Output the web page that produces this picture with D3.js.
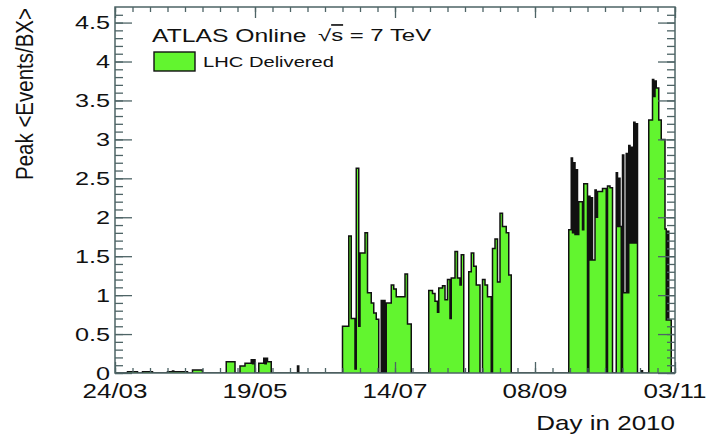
<!DOCTYPE html>
<html>
<head>
<meta charset="utf-8">
<script src="https://cdn.jsdelivr.net/npm/d3@7"></script>
<style>
  body { margin: 0; background: #fff; }
  text { font-family: "Liberation Sans", Arial, Helvetica, sans-serif; fill: #111; }
</style>
</head>
<body>
<div id="chart"></div>
<script>
// peak <events/BX> histogram, bins given by start day (day of year 2010), each runs to the next start
var binStart = [83, 88, 92, 94, 98, 104, 106, 106.5, 112, 114, 118,
  127.5, 131, 133, 135, 137.5, 138, 138.5, 139, 140.5, 142.5, 143, 143.5, 144, 145.5, 156, 156.5,
  174, 176.5, 177.5, 179, 179.5, 180.5, 181, 183, 184, 185.5, 186.5, 187.5, 188.5,
  189.5, 190, 190.5, 191, 191.5, 193.5, 194.5, 195.5, 199, 200, 201.5,
  208.5, 210, 211, 212, 212.5, 214, 215, 216, 217, 217.5, 219, 220, 221, 221.5, 222.5,
  224.5, 225.5, 226.5, 227.5, 229, 230, 231, 232, 233.5,
  234, 235, 236, 237, 238, 239.5, 240.5, 241.5,
  264.5, 265.5, 266, 266.5, 267, 267.5, 268, 268.5, 270, 270.5, 272, 272.5, 273, 273.5, 274,
  275, 275.5, 276, 278, 279.5, 280, 281, 282, 283.5, 284, 284.5, 285, 285.5,
  286, 286.5, 287.5, 288, 288.5, 289, 289.5, 290, 290.5, 291, 291.5, 292, 293.5, 294,
  296.5, 298, 298.5, 299, 299.5, 300.5, 301.5, 303, 303.5, 304, 304.5, 305.5];
var binMu = [0, 0.015, 0, 0.015, 0, 0.015, 0.025, 0.015, 0, 0.04, 0,
  0.145, 0, 0.09, 0.125, 0.17, 0.12, 0.17, 0, 0.125, 0.19, 0.12, 0.19, 0.145, 0, 0.09, 0,
  0.60, 1.76, 0.70, 0.05, 2.63, 0.60, 1.54, 1.80, 1.03, 0.90, 0.77, 0.69, 0,
  0.93, 0, 0.93, 0, 0.90, 1.13, 1.08, 0.98, 1.27, 0.63, 0,
  1.06, 1.02, 0.92, 0.78, 1.09, 1.12, 0.94, 1.20, 0.70, 1.22, 1.56, 1.22, 1.13, 1.52, 0,
  1.30, 1.54, 1.37, 1.13, 0, 1.20, 1.13, 0.98, 0,
  1.60, 1.72, 1.17, 2.05, 1.88, 1.80, 1.26, 0,
  1.84, 2.76, 1.80, 2.70, 1.78, 2.61, 1.78, 2.20, 1.84, 2.43, 0, 2.27, 1.45, 2.25, 1.45,
  2.35, 2.00, 2.33, 2.37, 0, 2.40, 2.38, 0, 2.57, 1.88, 2.50, 1.88, 0,
  2.80, 1.03, 2.82, 1.03, 2.92, 1.67, 2.90, 1.67, 3.22, 1.67, 3.20, 0, 0.03, 0,
  3.25, 3.77, 3.55, 3.75, 3.66, 3.25, 3.00, 1.85, 0.68, 1.82, 0.68, 0];
var lastEdge = 307;

var xTickLabels = ["24/03", "19/05", "14/07", "08/09", "03/11"];
var yTicks = [0, 0.5, 1, 1.5, 2, 2.5, 3, 3.5, 4, 4.5];
var yTickLabels = ["0", "0.5", "1", "1.5", "2", "2.5", "3", "3.5", "4", "4.5"];

var width = 711, height = 435;
var stretch = 1.3;
var green = "#62f52f";

var svg = d3.select("#chart").append("svg")
  .attr("width", width)
  .attr("height", height);

var parseDay = function(s){ return d3.utcParse("%d/%m/%Y")(s + "/2010"); };
function doyToDate(d){ return new Date(Date.UTC(2010, 0, 1) + (d - 1) * 864e5); }

var x = d3.scaleUtc()
  .domain([parseDay(xTickLabels[0]), parseDay(xTickLabels[xTickLabels.length - 1])])
  .range([115, 675]);
var y = d3.scaleLinear().domain([0, 4.7]).range([373, 7]);

svg.append("clipPath").attr("id", "frame")
  .append("rect").attr("x", 115).attr("y", 7).attr("width", 560).attr("height", 366);

// histogram
var pts = binStart.map(function(s, i){ return [doyToDate(s), binMu[i]]; });
pts.push([doyToDate(lastEdge), 0]);

var line = d3.line()
  .x(function(d){ return x(d[0]); })
  .y(function(d){ return y(d[1]); })
  .curve(d3.curveStepAfter);

svg.append("path")
  .attr("clip-path", "url(#frame)")
  .attr("d", line(pts))
  .attr("fill", green)
  .attr("stroke", "#111")
  .attr("stroke-width", 1.5)
  .attr("stroke-linejoin", "miter");

// axes, ticks pointing inward
var xMajor = xTickLabels.map(parseDay);
var xMinor = d3.range(x.domain()[0].getTime(), x.domain()[1].getTime() + 1, 7 * 864e5)
  .map(function(t){ return new Date(t); });
var yMinor = d3.range(0, 47).map(function(i){ return i / 10; });

function ticks(axis, tx, ty){
  var g = svg.append("g")
    .attr("transform", "translate(" + tx + "," + ty + ")")
    .call(axis.tickFormat("").tickSizeOuter(0));
  g.select(".domain").remove();
  g.selectAll("line").attr("stroke", "#4e6466").attr("stroke-width", 1.3);
}

ticks(d3.axisRight(y).tickValues(yMinor).tickSize(8), 115, 0);
ticks(d3.axisRight(y).tickValues(yTicks).tickSize(17), 115, 0);
ticks(d3.axisLeft(y).tickValues(yMinor).tickSize(8), 675, 0);
ticks(d3.axisLeft(y).tickValues(yTicks).tickSize(17), 675, 0);
ticks(d3.axisTop(x).tickValues(xMinor).tickSize(5), 0, 373);
ticks(d3.axisTop(x).tickValues(xMajor).tickSize(11), 0, 373);
ticks(d3.axisBottom(x).tickValues(xMinor).tickSize(5), 0, 7);
ticks(d3.axisBottom(x).tickValues(xMajor).tickSize(11), 0, 7);

svg.append("rect")
  .attr("x", 115).attr("y", 7).attr("width", 560).attr("height", 366)
  .attr("fill", "none")
  .attr("stroke", "#4e6466")
  .attr("stroke-width", 1.5);

// text helper, wide ROOT-style lettering
function label(txt, px, py, size, anchor, sx){
  return svg.append("text")
    .attr("transform", "translate(" + px + "," + py + ") scale(" + (sx || stretch) + ",1)")
    .attr("text-anchor", anchor)
    .style("font-size", size + "px")
    .text(txt);
}

yTicks.forEach(function(v, i){
  label(yTickLabels[i], 110, y(v) + 6.5, 19, "end", 1.33);
});
xMajor.forEach(function(d, i){
  label(xTickLabels[i], x(d), 398, 20, "middle");
});

label("Day in 2010", 675, 430, 20, "end");

svg.append("text")
  .attr("transform", "translate(33,8) scale(1.15,1) rotate(-90)")
  .attr("text-anchor", "end")
  .style("font-size", "20.5px")
  .text("Peak <Events/BX>");

label("ATLAS Online", 152, 42, 19, "start");
var rs = label("", 318, 41, 16.5, "start", 1.45);
rs.append("tspan").text("\u221A");
rs.append("tspan").style("text-decoration", "overline").text("s");
rs.append("tspan").text(" = 7 TeV");

// legend
svg.append("rect")
  .attr("x", 154).attr("y", 52).attr("width", 41).attr("height", 19)
  .attr("fill", green)
  .attr("stroke", "#111")
  .attr("stroke-width", 1.4);
label("LHC Delivered", 203, 67, 15.5, "start");
</script>
</body>
</html>
